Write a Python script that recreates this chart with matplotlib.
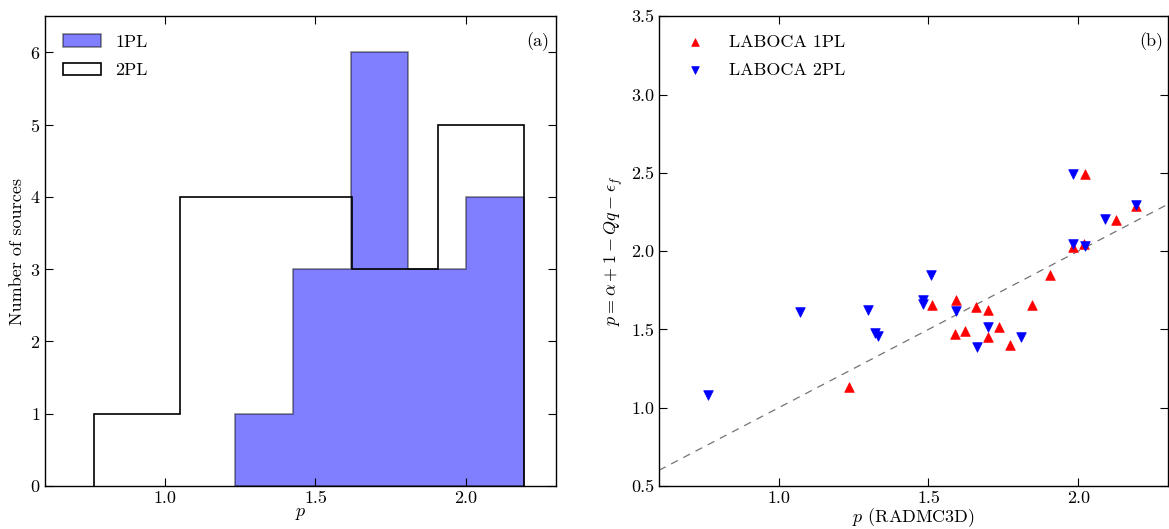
import matplotlib
matplotlib.use("Agg")
import matplotlib.pyplot as plt
import numpy as np

# RADMC3D power-law index p and the analytic estimate p = alpha + 1 - Qq - eps_f
p_radmc_1pl = [1.233, 1.513, 1.593, 1.587, 1.623, 1.660, 1.700, 1.700, 1.737,
               1.773, 1.847, 1.907, 1.983, 2.020, 2.023, 2.127, 2.193]
p_est_1pl = [1.131, 1.653, 1.685, 1.468, 1.487, 1.640, 1.621, 1.449, 1.513,
             1.398, 1.653, 1.850, 2.029, 2.048, 2.494, 2.200, 2.290]

p_radmc_2pl = [0.763, 1.070, 1.297, 1.320, 1.330, 1.483, 1.483, 1.510, 1.593,
               1.663, 1.700, 1.810, 1.983, 1.983, 2.023, 2.090, 2.193]
p_est_2pl = [1.080, 1.608, 1.627, 1.475, 1.455, 1.690, 1.660, 1.850, 1.615,
             1.390, 1.513, 1.449, 2.048, 2.494, 2.035, 2.207, 2.296]

n_bins = 5
hist_xticks = [1.0, 1.5, 2.0]
scatter_yticks = [0.5, 1.0, 1.5, 2.0, 2.5, 3.0, 3.5]

plt.rcParams.update({
    "font.family": "serif",
    "font.serif": ["cmr10", "DejaVu Serif"],
    "mathtext.fontset": "cm",
    "axes.unicode_minus": False,
    "axes.formatter.use_mathtext": True,
    "font.size": 13,
    "xtick.direction": "in",
    "ytick.direction": "in",
    "xtick.top": True,
    "ytick.right": True,
    "xtick.major.size": 6,
    "ytick.major.size": 6,
    "axes.linewidth": 1.0,
})

fig = plt.figure(figsize=(11.69, 5.29), dpi=100)
ax1 = fig.add_axes([0.0385, 0.0813, 0.437, 0.888])
ax2 = fig.add_axes([0.5637, 0.0813, 0.4355, 0.888])

# (a) distribution of p for the two fits
ax1.hist(p_radmc_1pl, bins=n_bins, histtype="stepfilled", facecolor="blue",
         edgecolor="black", alpha=0.5, linewidth=1.1, label="1PL")
ax1.hist(p_radmc_2pl, bins=n_bins, histtype="step", color="black",
         linewidth=1.2, label="2PL")
ax1.set_xlim(0.6, 2.3)
ax1.set_ylim(0, 6.5)
ax1.set_xticks(hist_xticks)
ax1.set_xticklabels([f"{t:.1f}" for t in hist_xticks])
ax1.set_xlabel(r"$p$", labelpad=0)
ax1.set_ylabel("Number of sources", labelpad=3)
ax1.legend(loc="upper left", frameon=False, handlelength=2.1,
           handletextpad=0.8, borderaxespad=0.6, labelspacing=0.7)
ax1.text(0.988, 0.965, "(a)", transform=ax1.transAxes, ha="right", va="top")

# (b) analytic estimate against RADMC3D
ax2.axline((1.0, 1.0), slope=1.0, color="0.45", linestyle=(0, (6, 5)),
           linewidth=0.9, zorder=1)
ax2.scatter(p_radmc_1pl, p_est_1pl, marker="^", s=48, color="red",
            edgecolors="red", linewidths=0.5, label="LABOCA 1PL", zorder=3)
ax2.scatter(p_radmc_2pl, p_est_2pl, marker="v", s=48, color="blue",
            edgecolors="blue", linewidths=0.5, label="LABOCA 2PL", zorder=3)
ax2.set_xlim(0.6, 2.3)
ax2.set_ylim(0.5, 3.5)
ax2.set_xticks(hist_xticks)
ax2.set_xticklabels([f"{t:.1f}" for t in hist_xticks])
ax2.set_yticks(scatter_yticks)
ax2.set_yticklabels([f"{t:.1f}" for t in scatter_yticks])
ax2.set_xlabel(r"$p$ (RADMC3D)", labelpad=0)
ax2.set_ylabel(r"$p = \alpha + 1 - Qq - \epsilon_f$", labelpad=4)
ax2.legend(loc="upper left", frameon=False, scatterpoints=1,
           handletextpad=0.9, borderaxespad=0.6, labelspacing=0.7,
           markerscale=0.8)
ax2.text(0.99, 0.965, "(b)", transform=ax2.transAxes, ha="right", va="top")

fig.savefig("out.png", dpi=100)
